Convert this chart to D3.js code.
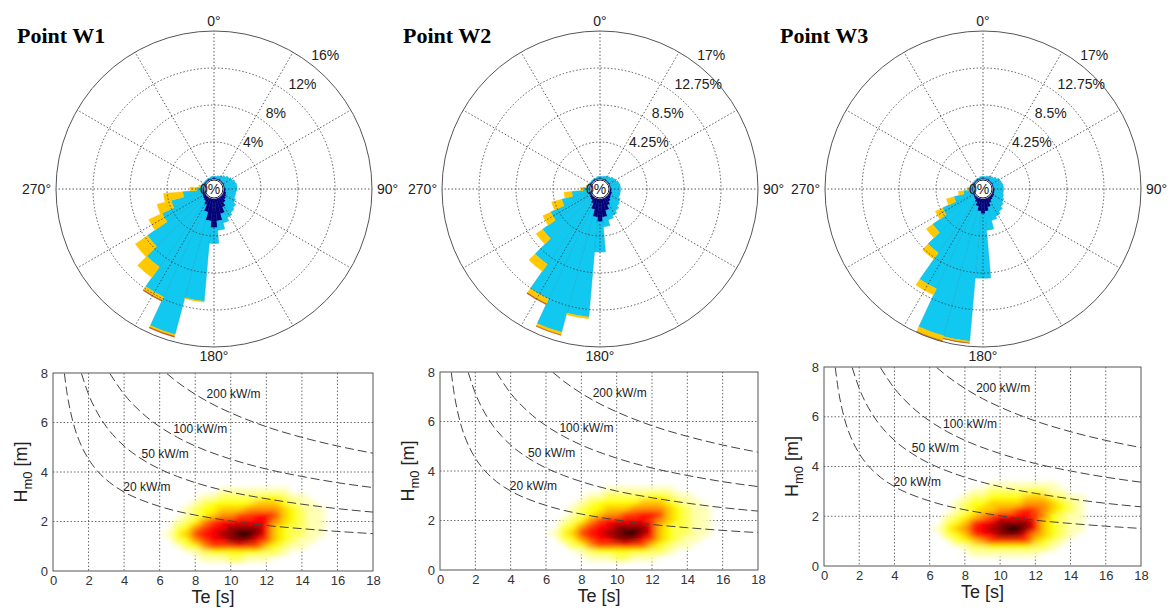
<!DOCTYPE html>
<html>
<head>
<meta charset="utf-8">
<script src="https://cdn.jsdelivr.net/npm/d3@7"></script>
<style>
    body { margin: 0; background: #fff; }
    text { font-family: Arial, "Liberation Sans", sans-serif; fill: #222; }
</style>
</head>
<body>
<div id="chart"></div>
<script>
// ---- rose data (percent of time per 10 degree sector, stacked by class) ----
const directions = [0, 10, 20, 30, 40, 50, 60, 70, 80, 90, 100, 110, 120, 130, 140, 150, 160, 170,
    180, 190, 200, 210, 220, 230, 240, 250, 260, 270, 280, 290, 300, 310, 320, 330, 340, 350];
const classNames = ["navy", "cyan", "yellow", "red"];
const classColors = ["#00007d", "#10c8f0", "#ffc800", "#b4501e"];

const pointNames = ["Point W1", "Point W2", "Point W3"];
const ringTicks = [[4, 8, 12, 16], [4.25, 8.5, 12.75, 17], [4.25, 8.5, 12.75, 17]];
const ringLabels = [["4%", "8%", "12%", "16%"], ["4.25%", "8.5%", "12.75%", "17%"], ["4.25%", "8.5%", "12.75%", "17%"]];
const angleLabels = ["0°", "90°", "180°", "270°"];

const navyW1 = [0.1, 0.1, 0.1, 0.1, 0.1, 0.1, 0.1, 0.1, 0.1, 0.2, 0.2, 0.3, 0.4, 0.5, 0.7, 1.1, 1.7, 2.4,
    3.1, 2.4, 1.5, 0.8, 0.5, 0.4, 0.3, 0.2, 0.2, 0.1, 0.1, 0.1, 0.1, 0.1, 0.1, 0.1, 0.1, 0.1];
const cyanW1 = [0.2, 0.2, 0.3, 0.4, 0.6, 0.8, 1.0, 1.2, 1.3, 1.2, 1.1, 1.0, 1.1, 1.3, 1.3, 1.2, 1.0, 1.0,
    1.7, 8.7, 13.7, 11.0, 8.7, 7.3, 4.8, 3.5, 2.1, 0.7, 0.3, 0.2, 0.1, 0.1, 0.1, 0.1, 0.1, 0.2];
const yellowW1 = [0, 0, 0, 0, 0, 0, 0, 0, 0, 0, 0, 0, 0, 0, 0, 0, 0, 0,
    0, 0.1, 0.2, 0.4, 1.4, 1.6, 1.6, 1.6, 2.1, 0.7, 0.2, 0, 0, 0, 0, 0, 0, 0];
const redW1 = [0, 0, 0, 0, 0, 0, 0, 0, 0, 0, 0, 0, 0, 0, 0, 0, 0, 0,
    0, 0, 0.1, 0.1, 0, 0, 0, 0, 0, 0, 0, 0, 0, 0, 0, 0, 0, 0];

const navyW2 = [0.1, 0.1, 0.1, 0.1, 0.1, 0.1, 0.1, 0.1, 0.1, 0.2, 0.2, 0.3, 0.3, 0.4, 0.6, 0.9, 1.4, 2.1,
    2.6, 2.1, 1.3, 0.7, 0.4, 0.3, 0.2, 0.2, 0.1, 0.1, 0.1, 0.1, 0.1, 0.1, 0.1, 0.1, 0.1, 0.1];
const cyanW2 = [0.2, 0.2, 0.3, 0.4, 0.5, 0.7, 0.8, 1.0, 1.1, 1.0, 1.0, 0.9, 1.1, 1.2, 1.3, 1.3, 1.1, 1.1,
    3.5, 11.5, 14.6, 12.1, 9.0, 6.6, 4.9, 3.2, 2.0, 0.7, 0.3, 0.2, 0.1, 0.1, 0.1, 0.1, 0.1, 0.2];
const yellowW2 = [0, 0, 0, 0, 0, 0, 0, 0, 0, 0, 0, 0, 0, 0, 0, 0, 0, 0,
    0, 0.2, 0.3, 0.6, 1.0, 0.9, 1.0, 1.2, 0.9, 0.3, 0.1, 0, 0, 0, 0, 0, 0, 0];
const redW2 = [0, 0, 0, 0, 0, 0, 0, 0, 0, 0, 0, 0, 0, 0, 0, 0, 0, 0,
    0, 0, 0.05, 0.1, 0, 0, 0, 0, 0, 0, 0, 0, 0, 0, 0, 0, 0, 0];

const navyW3 = [0.1, 0.1, 0.1, 0.1, 0.1, 0.1, 0.1, 0.1, 0.1, 0.2, 0.2, 0.2, 0.3, 0.3, 0.4, 0.6, 1.0, 1.4,
    1.7, 1.4, 0.9, 0.5, 0.3, 0.2, 0.1, 0.1, 0.1, 0.1, 0.1, 0.1, 0.1, 0.1, 0.1, 0.1, 0.1, 0.1];
const cyanW3 = [0.2, 0.2, 0.3, 0.4, 0.5, 0.7, 0.9, 1.0, 1.1, 1.0, 1.0, 1.1, 1.2, 1.4, 1.6, 1.7, 1.6, 2.2,
    7.4, 15.0, 15.4, 11.0, 7.5, 5.7, 3.9, 2.2, 1.0, 0.4, 0.2, 0.1, 0.1, 0.1, 0.1, 0.1, 0.1, 0.2];
const yellowW3 = [0, 0, 0, 0, 0, 0, 0, 0, 0, 0, 0, 0, 0, 0, 0, 0, 0, 0,
    0, 0.2, 0.6, 0.8, 0.9, 0.9, 0.9, 0.9, 0.6, 0.2, 0, 0, 0, 0, 0, 0, 0, 0];
const redW3 = [0, 0, 0, 0, 0, 0, 0, 0, 0, 0, 0, 0, 0, 0, 0, 0, 0, 0,
    0, 0.05, 0.05, 0, 0, 0, 0, 0, 0, 0, 0, 0, 0, 0, 0, 0, 0, 0];

const roseSeries = [
    [navyW1, cyanW1, yellowW1, redW1],
    [navyW2, cyanW2, yellowW2, redW2],
    [navyW3, cyanW3, yellowW3, redW3]
];

// ---- scatter density (Hm0 vs Te), intensity 0..9 ----
const teCells = [6.5, 7, 7.5, 8, 8.5, 9, 9.5, 10, 10.5, 11, 11.5, 12, 12.5, 13, 13.5, 14, 14.5, 15, 15.5, 16];
const hCells = [3.5, 3.25, 3.0, 2.75, 2.5, 2.25, 2.0, 1.75, 1.5, 1.25, 1.0, 0.75, 0.5, 0.25];

const densityW1 = [
    [0, 0, 0, 0, 0, 0, 0, 0, 0, 0, 0, 0, 0, 0, 0, 0, 0, 0, 0, 0],
    [0, 0, 0, 0, 0, 0, 1, 1, 1, 1, 1, 1, 1, 1, 0, 0, 0, 0, 0, 0],
    [0, 0, 0, 0, 1, 1, 2, 2, 2, 2, 2, 3, 3, 2, 1, 1, 0, 0, 0, 0],
    [0, 0, 0, 1, 2, 3, 3, 3, 3, 3, 4, 4, 4, 3, 2, 1, 1, 0, 0, 0],
    [0, 0, 1, 2, 3, 3, 4, 4, 4, 5, 5, 5, 5, 4, 3, 2, 1, 1, 0, 0],
    [0, 0, 1, 2, 3, 4, 5, 5, 6, 6, 7, 7, 6, 4, 3, 2, 1, 1, 0, 0],
    [0, 1, 2, 3, 5, 6, 7, 7, 7, 7, 7, 7, 5, 4, 3, 2, 1, 1, 0, 0],
    [0, 2, 3, 5, 6, 7, 7, 8, 8, 8, 8, 7, 4, 3, 2, 2, 1, 1, 0, 0],
    [1, 3, 4, 6, 7, 7, 8, 8, 9, 9, 8, 7, 4, 3, 2, 2, 1, 1, 0, 0],
    [0, 2, 3, 5, 6, 7, 7, 8, 8, 8, 7, 6, 4, 3, 2, 1, 1, 0, 0, 0],
    [0, 0, 2, 3, 5, 6, 6, 6, 7, 6, 6, 4, 3, 2, 1, 1, 0, 0, 0, 0],
    [0, 0, 0, 1, 2, 3, 3, 3, 3, 3, 3, 2, 2, 1, 0, 0, 0, 0, 0, 0],
    [0, 0, 0, 0, 1, 1, 1, 2, 2, 1, 1, 1, 0, 0, 0, 0, 0, 0, 0, 0],
    [0, 0, 0, 0, 0, 0, 0, 0, 0, 0, 0, 0, 0, 0, 0, 0, 0, 0, 0, 0]
];
const densityW2 = [
    [0, 0, 0, 0, 0, 0, 0, 0, 0, 0, 0, 0, 0, 0, 0, 0, 0, 0, 0, 0],
    [0, 0, 0, 0, 0, 0, 1, 1, 1, 1, 1, 1, 1, 1, 0, 0, 0, 0, 0, 0],
    [0, 0, 0, 0, 1, 1, 2, 2, 2, 2, 2, 3, 3, 2, 1, 1, 0, 0, 0, 0],
    [0, 0, 0, 1, 2, 3, 3, 3, 3, 3, 4, 4, 4, 3, 2, 1, 1, 0, 0, 0],
    [0, 0, 1, 2, 3, 3, 4, 4, 4, 5, 5, 5, 5, 4, 3, 2, 1, 1, 0, 0],
    [0, 0, 1, 2, 3, 4, 5, 5, 6, 6, 7, 7, 6, 4, 3, 2, 1, 1, 0, 0],
    [0, 1, 2, 3, 5, 6, 7, 7, 7, 7, 7, 6, 5, 4, 3, 2, 1, 1, 0, 0],
    [0, 2, 3, 5, 6, 7, 7, 8, 8, 8, 8, 7, 4, 3, 2, 2, 1, 1, 0, 0],
    [1, 3, 4, 6, 7, 7, 8, 8, 9, 9, 8, 7, 4, 3, 2, 2, 1, 1, 0, 0],
    [0, 2, 3, 5, 6, 7, 7, 8, 8, 8, 7, 6, 4, 3, 2, 1, 1, 0, 0, 0],
    [0, 0, 2, 3, 5, 6, 6, 6, 7, 6, 6, 4, 3, 2, 1, 1, 0, 0, 0, 0],
    [0, 0, 0, 1, 2, 3, 3, 3, 3, 3, 3, 2, 2, 1, 0, 0, 0, 0, 0, 0],
    [0, 0, 0, 0, 1, 1, 1, 2, 2, 1, 1, 1, 0, 0, 0, 0, 0, 0, 0, 0],
    [0, 0, 0, 0, 0, 0, 0, 0, 0, 0, 0, 0, 0, 0, 0, 0, 0, 0, 0, 0]
];
const densityW3 = [
    [0, 0, 0, 0, 0, 0, 0, 0, 0, 0, 0, 0, 0, 0, 0, 0, 0, 0, 0, 0],
    [0, 0, 0, 0, 0, 0, 1, 1, 1, 1, 1, 1, 1, 1, 0, 0, 0, 0, 0, 0],
    [0, 0, 0, 0, 1, 1, 2, 2, 2, 2, 2, 3, 2, 1, 1, 0, 0, 0, 0, 0],
    [0, 0, 0, 1, 2, 2, 3, 3, 3, 3, 4, 4, 4, 3, 2, 1, 1, 0, 0, 0],
    [0, 0, 1, 2, 3, 3, 4, 4, 4, 4, 5, 5, 5, 4, 3, 2, 1, 0, 0, 0],
    [0, 0, 1, 2, 3, 4, 4, 5, 5, 6, 7, 6, 5, 4, 3, 2, 1, 0, 0, 0],
    [0, 1, 2, 3, 4, 5, 6, 7, 7, 7, 7, 6, 5, 3, 2, 1, 1, 0, 0, 0],
    [0, 2, 3, 4, 6, 7, 7, 8, 8, 8, 8, 7, 4, 3, 2, 1, 1, 0, 0, 0],
    [1, 3, 4, 5, 7, 7, 8, 8, 9, 9, 8, 7, 4, 3, 2, 1, 1, 0, 0, 0],
    [0, 2, 3, 4, 6, 7, 7, 8, 8, 8, 7, 5, 4, 3, 2, 1, 0, 0, 0, 0],
    [0, 0, 2, 3, 4, 5, 6, 6, 6, 6, 6, 4, 3, 2, 1, 0, 0, 0, 0, 0],
    [0, 0, 0, 1, 2, 2, 3, 3, 3, 3, 3, 2, 2, 1, 0, 0, 0, 0, 0, 0],
    [0, 0, 0, 0, 1, 1, 1, 1, 1, 1, 1, 1, 0, 0, 0, 0, 0, 0, 0, 0],
    [0, 0, 0, 0, 0, 0, 0, 0, 0, 0, 0, 0, 0, 0, 0, 0, 0, 0, 0, 0]
];
const densities = [densityW1, densityW2, densityW3];
const heatColors = ["#ffffff", "#ffffb4", "#ffff5a", "#ffff00", "#ffcc00", "#ff9000", "#ff3c00", "#ff0000", "#900000", "#000000"];

// ---- wave power iso-lines (Te [s], Hm0 [m]) ----
const powerLevels = ["20 kW/m", "50 kW/m", "100 kW/m", "200 kW/m"];
const powerTe = [
    [0.64, 0.8, 1, 1.25, 1.5, 2, 2.5, 3, 4, 5, 6, 7, 8, 10, 12, 14, 16, 18],
    [1.6, 2, 2.5, 3, 3.5, 4, 5, 6, 7, 8, 10, 12, 14, 16, 18],
    [3.2, 4, 5, 6, 7, 8, 10, 12, 14, 16, 18],
    [6.4, 7, 8, 9, 10, 12, 14, 16, 18]
];
const powerH = [
    [7.98, 7.14, 6.39, 5.71, 5.22, 4.52, 4.04, 3.69, 3.19, 2.86, 2.61, 2.41, 2.26, 2.02, 1.84, 1.71, 1.60, 1.51],
    [7.98, 7.14, 6.39, 5.83, 5.40, 5.05, 4.52, 4.12, 3.82, 3.57, 3.19, 2.92, 2.70, 2.52, 2.38],
    [7.98, 7.14, 6.39, 5.83, 5.40, 5.05, 4.52, 4.12, 3.82, 3.57, 3.37],
    [7.98, 7.63, 7.14, 6.73, 6.39, 5.83, 5.40, 5.05, 4.76]
];
const powerLabelTe = [3.95, 4.98, 6.76, 8.64];
const powerLabelH = [3.39, 4.74, 5.72, 7.14];

const teTicks = [0, 2, 4, 6, 8, 10, 12, 14, 16, 18];
const hTicks = [0, 2, 4, 6, 8];

// ---- layout ----
const w = 1172;
const h = 610;
const roseCx = [214, 600, 983];
const roseCy = 189;
const roseR = 158;
const roseR0 = 10;
const titleX = [17, 403, 780];
const heatBoxes = [
    {x0: 53, x1: 373, y0: 373, y1: 571},
    {x0: 440, x1: 758, y0: 372, y1: 570},
    {x0: 824, x1: 1141, y0: 367, y1: 566}
];

const svg = d3.select("#chart")
    .append("svg")
    .attr("width", w)
    .attr("height", h);

svg.append("rect").attr("width", w).attr("height", h).attr("fill", "#fff");

const defs = svg.append("defs");
defs.append("filter")
    .attr("id", "soft")
    .attr("x", "-30%").attr("y", "-30%")
    .attr("width", "160%").attr("height", "160%")
    .append("feGaussianBlur")
    .attr("stdDeviation", "3.8 2.7");

function drawRose(i) {
    const g = svg.append("g")
        .attr("transform", "translate(" + roseCx[i] + "," + roseCy + ")");
    const ticks = ringTicks[i];
    const r = d3.scaleLinear()
        .domain([0, ticks[ticks.length - 1]])
        .range([roseR0, roseR]);

    const rows = directions.map(function (d, j) {
        const row = {dir: d};
        classNames.forEach(function (c, k) {
            row[c] = roseSeries[i][k][j];
        });
        return row;
    });
    const layers = d3.stack().keys(classNames)(rows);
    const arc = d3.arc();
    const toRad = Math.PI / 180;

    g.append("circle").attr("r", roseR).attr("fill", "#fff");

    layers.forEach(function (layer, k) {
        g.append("g")
            .selectAll("path")
            .data(layer.filter(function (d) { return d[1] - d[0] > 0; }))
            .enter()
            .append("path")
            .attr("d", function (d) {
                return arc({
                    innerRadius: r(d[0]),
                    outerRadius: r(d[1]),
                    startAngle: (d.data.dir - 5) * toRad,
                    endAngle: (d.data.dir + 5) * toRad
                });
            })
            .attr("fill", classColors[k])
            .attr("stroke", k === 1 ? "#0aa6cc" : classColors[k])
            .attr("stroke-width", 0.4);
    });

    // grid on top of the petals
    g.selectAll(".spoke")
        .data(d3.range(0, 360, 30))
        .enter()
        .append("line")
        .attr("x1", 0).attr("y1", 0)
        .attr("x2", function (d) { return roseR * Math.sin(d * toRad); })
        .attr("y2", function (d) { return -roseR * Math.cos(d * toRad); })
        .attr("stroke", "#333")
        .attr("stroke-width", 0.8)
        .attr("stroke-dasharray", "1.5,2");

    g.selectAll(".ring")
        .data(ticks.slice(0, ticks.length - 1))
        .enter()
        .append("circle")
        .attr("r", function (d) { return r(d); })
        .attr("fill", "none")
        .attr("stroke", "#333")
        .attr("stroke-width", 0.8)
        .attr("stroke-dasharray", "1.5,2");

    g.append("circle")
        .attr("r", roseR)
        .attr("fill", "none")
        .attr("stroke", "#555")
        .attr("stroke-width", 1);

    // percent labels
    const labelAngle = 38 * toRad;
    g.selectAll(".pct")
        .data(ticks)
        .enter()
        .append("text")
        .attr("x", function (d) { return r(d) * Math.sin(labelAngle); })
        .attr("y", function (d) { return -r(d) * Math.cos(labelAngle) - 5; })
        .attr("font-size", 14)
        .text(function (d, j) { return ringLabels[i][j]; });

    // centre hole
    g.append("circle")
        .attr("r", 9)
        .attr("fill", "#fff")
        .attr("stroke", "#222")
        .attr("stroke-width", 1);
    g.append("text")
        .attr("x", -14)
        .attr("y", 5)
        .attr("font-size", 14)
        .text("0%");

    // compass labels
    g.append("text").attr("x", 0).attr("y", -roseR - 5)
        .attr("text-anchor", "middle").attr("font-size", 14).text(angleLabels[0]);
    g.append("text").attr("x", roseR + 5).attr("y", 5)
        .attr("font-size", 14).text(angleLabels[1]);
    g.append("text").attr("x", 0).attr("y", roseR + 14)
        .attr("text-anchor", "middle").attr("font-size", 14).text(angleLabels[2]);
    g.append("text").attr("x", -roseR - 5).attr("y", 5)
        .attr("text-anchor", "end").attr("font-size", 14).text(angleLabels[3]);

    svg.append("text")
        .attr("x", titleX[i])
        .attr("y", 43)
        .style("font-family", "'Liberation Serif', 'Times New Roman', serif")
        .attr("font-weight", "bold")
        .attr("font-size", 22)
        .style("fill", "#000")
        .text(pointNames[i]);
}

function drawHeat(i) {
    const b = heatBoxes[i];
    const x = d3.scaleLinear().domain([0, 18]).range([b.x0, b.x1]);
    const y = d3.scaleLinear().domain([0, 8]).range([b.y1, b.y0]);
    const color = d3.scaleLinear().domain(d3.range(heatColors.length)).range(heatColors);

    const g = svg.append("g");
    const clipId = "clip" + i;
    defs.append("clipPath").attr("id", clipId)
        .append("rect")
        .attr("x", b.x0).attr("y", b.y0)
        .attr("width", b.x1 - b.x0).attr("height", b.y1 - b.y0);

    g.append("rect")
        .attr("x", b.x0).attr("y", b.y0)
        .attr("width", b.x1 - b.x0).attr("height", b.y1 - b.y0)
        .attr("fill", "#fff");

    // dotted grid
    g.selectAll(".gx")
        .data(teTicks.slice(1, teTicks.length - 1))
        .enter()
        .append("line")
        .attr("x1", function (d) { return x(d); })
        .attr("x2", function (d) { return x(d); })
        .attr("y1", b.y0).attr("y2", b.y1)
        .attr("stroke", "#444").attr("stroke-width", 0.8)
        .attr("stroke-dasharray", "1.5,2");
    g.selectAll(".gy")
        .data(hTicks.slice(1, hTicks.length - 1))
        .enter()
        .append("line")
        .attr("y1", function (d) { return y(d); })
        .attr("y2", function (d) { return y(d); })
        .attr("x1", b.x0).attr("x2", b.x1)
        .attr("stroke", "#444").attr("stroke-width", 0.8)
        .attr("stroke-dasharray", "1.5,2");

    // density cells, softened
    const cells = [];
    densities[i].forEach(function (row, ri) {
        row.forEach(function (v, ci) {
            if (v > 0) {
                cells.push({te: teCells[ci], hs: hCells[ri], v: v});
            }
        });
    });
    const cw = x(0.5) - x(0);
    const chh = y(0) - y(0.25);
    g.append("g")
        .attr("clip-path", "url(#" + clipId + ")")
        .append("g")
        .attr("filter", "url(#soft)")
        .selectAll("rect")
        .data(cells)
        .enter()
        .append("rect")
        .attr("x", function (d) { return x(d.te - 0.25); })
        .attr("y", function (d) { return y(d.hs + 0.125); })
        .attr("width", cw + 0.5)
        .attr("height", chh + 0.5)
        .attr("fill", function (d) { return color(d.v); });

    // power iso-lines
    const line = d3.line()
        .x(function (d) { return x(d[0]); })
        .y(function (d) { return y(d[1]); })
        .curve(d3.curveMonotoneX);
    g.append("g")
        .attr("clip-path", "url(#" + clipId + ")")
        .selectAll("path")
        .data(powerTe.map(function (tes, k) {
            return tes.map(function (t, j) { return [t, powerH[k][j]]; });
        }))
        .enter()
        .append("path")
        .attr("d", line)
        .attr("fill", "none")
        .attr("stroke", "#444")
        .attr("stroke-width", 1)
        .attr("stroke-dasharray", "9,4");

    g.selectAll(".plabel")
        .data(powerLevels)
        .enter()
        .append("text")
        .attr("x", function (d, k) { return x(powerLabelTe[k]); })
        .attr("y", function (d, k) { return y(powerLabelH[k]) + 4; })
        .attr("font-size", 12)
        .text(function (d) { return d; });

    g.append("rect")
        .attr("x", b.x0).attr("y", b.y0)
        .attr("width", b.x1 - b.x0).attr("height", b.y1 - b.y0)
        .attr("fill", "none")
        .attr("stroke", "#555")
        .attr("stroke-width", 1);

    const xAxis = d3.axisBottom(x).tickValues(teTicks).tickSize(0).tickPadding(5);
    const yAxis = d3.axisLeft(y).tickValues(hTicks).tickSize(0).tickPadding(5);

    const gx = g.append("g")
        .attr("transform", "translate(0," + b.y1 + ")")
        .call(xAxis);
    const gy = g.append("g")
        .attr("transform", "translate(" + b.x0 + ",0)")
        .call(yAxis);
    [gx, gy].forEach(function (a) {
        a.select(".domain").remove();
        a.selectAll("text")
            .attr("font-size", 13)
            .style("font-family", "Arial, 'Liberation Sans', sans-serif")
            .style("fill", "#333");
    });

    g.append("text")
        .attr("x", (b.x0 + b.x1) / 2)
        .attr("y", b.y1 + 32)
        .attr("text-anchor", "middle")
        .attr("font-size", 18)
        .text("Te [s]");

    const yl = g.append("text")
        .attr("transform", "translate(" + (b.x0 - 26) + "," + ((b.y0 + b.y1) / 2) + ") rotate(-90)")
        .attr("text-anchor", "middle")
        .attr("font-size", 18);
    yl.append("tspan").text("H");
    yl.append("tspan").attr("font-size", 13).attr("dy", 5).text("m0");
    yl.append("tspan").attr("dy", -5).text(" [m]");
}

function init() {
    for (let i = 0; i < 3; i++) {
        drawHeat(i);
    }
    for (let i = 0; i < 3; i++) {
        drawRose(i);
    }
}

window.onload = init;
</script>
</body>
</html>
